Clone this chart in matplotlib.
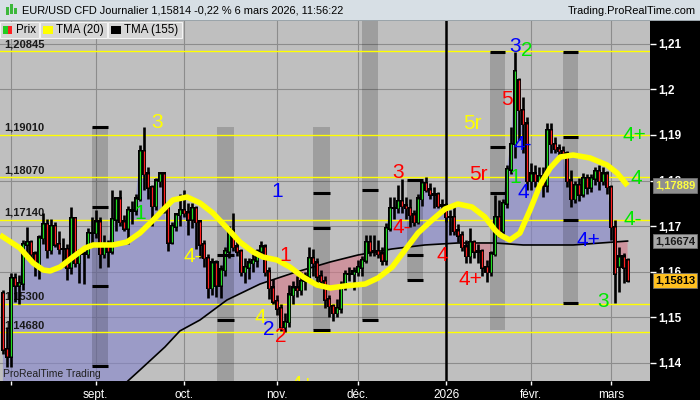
import numpy as np
import pandas as pd
import matplotlib
matplotlib.use("Agg")
import matplotlib.pyplot as plt
from matplotlib.patches import Rectangle

plt.rcParams['font.family'] = ['Liberation Sans', 'DejaVu Sans']

# trading days shown (daily candles, holidays removed)
dates = pd.bdate_range("2025-07-30", "2026-03-06")
dates = dates[~dates.isin(pd.to_datetime(["2025-12-25", "2026-01-01"]))]

opens = [1.1553, 1.1430, 1.1415, 1.1586, 1.1570, 1.1575, 1.1660, 1.1665, 1.1640, 1.1615,
         1.1675, 1.1705, 1.1648, 1.1700, 1.1660, 1.1650, 1.1650, 1.1610, 1.1718, 1.1620,
         1.1640, 1.1640, 1.1685, 1.1685, 1.1710, 1.1640, 1.1660, 1.1645, 1.1715, 1.1760,
         1.1710, 1.1695, 1.1735, 1.1735, 1.1760, 1.1865, 1.1815, 1.1785, 1.1745, 1.1800,
         1.1815, 1.1740, 1.1665, 1.1700, 1.1725, 1.1735, 1.1730, 1.1715, 1.1740, 1.1710,
         1.1660, 1.1630, 1.1565, 1.1620, 1.1570, 1.1605, 1.1645, 1.1690, 1.1655, 1.1645,
         1.1600, 1.1610, 1.1620, 1.1625, 1.1645, 1.1655, 1.1600, 1.1565, 1.1535, 1.1520,
         1.1480, 1.1490, 1.1550, 1.1565, 1.1560, 1.1580, 1.1590, 1.1630, 1.1620, 1.1590,
         1.1580, 1.1540, 1.1525, 1.1510, 1.1520, 1.1570, 1.1595, 1.1595, 1.1600, 1.1610,
         1.1625, 1.1665, 1.1645, 1.1645, 1.1640, 1.1625, 1.1695, 1.1740, 1.1740, 1.1755,
         1.1745, 1.1740, 1.1725, 1.1710, 1.1760, 1.1795, 1.1780, 1.1770, 1.1770, 1.1745,
         1.1745, 1.1720, 1.1720, 1.1690, 1.1680, 1.1655, 1.1635, 1.1665, 1.1645, 1.1645,
         1.1610, 1.1600, 1.1640, 1.1720, 1.1690, 1.1750, 1.1825, 1.1880, 1.2020, 1.1955,
         1.1925, 1.1800, 1.1815, 1.1800, 1.1810, 1.1790, 1.1910, 1.1880, 1.1870, 1.1865,
         1.1860, 1.1800, 1.1760, 1.1790, 1.1770, 1.1805, 1.1785, 1.1805, 1.1820, 1.1800,
         1.1815, 1.1786, 1.1698, 1.1612, 1.1633, 1.1626]
highs = [1.1560, 1.1478, 1.1597, 1.1597, 1.1593, 1.1670, 1.1699, 1.1670, 1.1645, 1.1680,
         1.1730, 1.1715, 1.1715, 1.1710, 1.1690, 1.1675, 1.1660, 1.1742, 1.1720, 1.1650,
         1.1645, 1.1695, 1.1720, 1.1735, 1.1720, 1.1680, 1.1670, 1.1780, 1.1760, 1.1780,
         1.1725, 1.1745, 1.1755, 1.1770, 1.1878, 1.1918, 1.1830, 1.1790, 1.1805, 1.1819,
         1.1818, 1.1750, 1.1710, 1.1730, 1.1770, 1.1779, 1.1750, 1.1750, 1.1745, 1.1710,
         1.1670, 1.1640, 1.1630, 1.1625, 1.1615, 1.1655, 1.1700, 1.1728, 1.1670, 1.1650,
         1.1630, 1.1630, 1.1640, 1.1650, 1.1668, 1.1660, 1.1610, 1.1585, 1.1550, 1.1530,
         1.1510, 1.1570, 1.1580, 1.1590, 1.1600, 1.1600, 1.1655, 1.1650, 1.1630, 1.1605,
         1.1590, 1.1550, 1.1530, 1.1540, 1.1580, 1.1605, 1.1610, 1.1610, 1.1625, 1.1635,
         1.1680, 1.1680, 1.1680, 1.1670, 1.1655, 1.1707, 1.1764, 1.1765, 1.1790, 1.1804,
         1.1765, 1.1760, 1.1735, 1.1770, 1.1800, 1.1808, 1.1795, 1.1785, 1.1775, 1.1760,
         1.1750, 1.1735, 1.1745, 1.1705, 1.1690, 1.1670, 1.1697, 1.1670, 1.1660, 1.1650,
         1.1625, 1.1645, 1.1768, 1.1757, 1.1760, 1.1835, 1.1918, 1.2083, 1.2025, 1.1983,
         1.1939, 1.1839, 1.1835, 1.1830, 1.1830, 1.1926, 1.1926, 1.1895, 1.1880, 1.1875,
         1.1865, 1.1823, 1.1800, 1.1805, 1.1817, 1.1815, 1.1815, 1.1830, 1.1835, 1.1830,
         1.1820, 1.1790, 1.1714, 1.1654, 1.1641, 1.1630]
lows = [1.1420, 1.1391, 1.1391, 1.1534, 1.1530, 1.1560, 1.1630, 1.1620, 1.1590, 1.1585,
        1.1660, 1.1630, 1.1640, 1.1655, 1.1640, 1.1610, 1.1583, 1.1595, 1.1610, 1.1575,
        1.1574, 1.1630, 1.1660, 1.1675, 1.1608, 1.1630, 1.1610, 1.1640, 1.1690, 1.1700,
        1.1690, 1.1660, 1.1705, 1.1725, 1.1755, 1.1780, 1.1760, 1.1700, 1.1735, 1.1785,
        1.1730, 1.1646, 1.1660, 1.1690, 1.1700, 1.1720, 1.1680, 1.1695, 1.1650, 1.1630,
        1.1610, 1.1542, 1.1550, 1.1545, 1.1542, 1.1590, 1.1630, 1.1645, 1.1635, 1.1590,
        1.1575, 1.1585, 1.1600, 1.1610, 1.1630, 1.1590, 1.1540, 1.1530, 1.1505, 1.1470,
        1.1468, 1.1480, 1.1530, 1.1545, 1.1550, 1.1560, 1.1585, 1.1590, 1.1575, 1.1570,
        1.1520, 1.1500, 1.1492, 1.1500, 1.1510, 1.1560, 1.1580, 1.1560, 1.1590, 1.1590,
        1.1620, 1.1635, 1.1635, 1.1630, 1.1615, 1.1615, 1.1690, 1.1715, 1.1730, 1.1730,
        1.1715, 1.1698, 1.1700, 1.1705, 1.1745, 1.1775, 1.1760, 1.1740, 1.1740, 1.1735,
        1.1710, 1.1680, 1.1680, 1.1665, 1.1645, 1.1620, 1.1620, 1.1630, 1.1620, 1.1590,
        1.1578, 1.1590, 1.1635, 1.1676, 1.1680, 1.1740, 1.1815, 1.1850, 1.1890, 1.1860,
        1.1779, 1.1779, 1.1785, 1.1780, 1.1765, 1.1775, 1.1860, 1.1861, 1.1852, 1.1850,
        1.1786, 1.1742, 1.1750, 1.1755, 1.1765, 1.1770, 1.1775, 1.1790, 1.1780, 1.1790,
        1.1770, 1.1670, 1.1532, 1.1556, 1.1575, 1.1578]
closes = [1.1430, 1.1415, 1.1586, 1.1570, 1.1575, 1.1660, 1.1665, 1.1640, 1.1615, 1.1675,
          1.1705, 1.1648, 1.1700, 1.1660, 1.1650, 1.1650, 1.1610, 1.1718, 1.1620, 1.1640,
          1.1640, 1.1685, 1.1685, 1.1710, 1.1640, 1.1660, 1.1645, 1.1715, 1.1760, 1.1710,
          1.1695, 1.1735, 1.1735, 1.1760, 1.1865, 1.1815, 1.1785, 1.1745, 1.1800, 1.1815,
          1.1740, 1.1665, 1.1700, 1.1725, 1.1735, 1.1730, 1.1715, 1.1740, 1.1710, 1.1660,
          1.1630, 1.1565, 1.1620, 1.1570, 1.1605, 1.1645, 1.1690, 1.1655, 1.1645, 1.1600,
          1.1610, 1.1620, 1.1625, 1.1645, 1.1655, 1.1600, 1.1565, 1.1535, 1.1520, 1.1480,
          1.1490, 1.1550, 1.1565, 1.1560, 1.1580, 1.1590, 1.1630, 1.1620, 1.1590, 1.1580,
          1.1540, 1.1525, 1.1510, 1.1520, 1.1570, 1.1595, 1.1595, 1.1600, 1.1610, 1.1625,
          1.1665, 1.1645, 1.1645, 1.1640, 1.1625, 1.1695, 1.1740, 1.1740, 1.1755, 1.1745,
          1.1740, 1.1725, 1.1710, 1.1760, 1.1795, 1.1780, 1.1770, 1.1770, 1.1745, 1.1745,
          1.1720, 1.1720, 1.1690, 1.1680, 1.1655, 1.1635, 1.1665, 1.1645, 1.1645, 1.1610,
          1.1600, 1.1640, 1.1720, 1.1690, 1.1750, 1.1825, 1.1880, 1.2040, 1.1955, 1.1925,
          1.1800, 1.1815, 1.1800, 1.1810, 1.1790, 1.1910, 1.1880, 1.1870, 1.1865, 1.1860,
          1.1800, 1.1760, 1.1790, 1.1770, 1.1805, 1.1785, 1.1805, 1.1820, 1.1800, 1.1815,
          1.1786, 1.1698, 1.1597, 1.1633, 1.1610, 1.1581]

# TMA(20) and TMA(155) (bar position, price)
tma20_x = [-0.7, 4.2, 7.5, 10.0, 11.7, 14.2, 17.4, 20.4, 22.4, 27.3, 30.8, 34.0, 37.3, 40.2,
           42.2, 45.7, 48.9, 52.1, 55.6, 58.8, 62.1, 64.5, 68.0, 71.2, 74.5, 77.9, 81.2, 84.9,
           89.9, 93.1, 96.6, 99.8, 103.0, 106.5, 109.7, 112.9, 116.4, 119.6, 122.1, 123.4,
           125.8, 128.3, 130.8, 133.3, 135.8, 138.3, 141.5, 145.7, 149.9, 152.4, 155.0]
tma20_y = [1.16807, 1.16522, 1.16193, 1.16039, 1.16018, 1.16105, 1.16325, 1.16522, 1.16588,
           1.16588, 1.16654, 1.16851, 1.17136, 1.17399, 1.17575, 1.17640, 1.17509, 1.17289,
           1.16961, 1.16654, 1.16434, 1.16325, 1.16259, 1.16105, 1.15886, 1.15711, 1.15645,
           1.15689, 1.15732, 1.15864, 1.16105, 1.16478, 1.16851, 1.17136, 1.17377, 1.17487,
           1.17421, 1.17202, 1.16917, 1.16807, 1.16697, 1.16851, 1.17355, 1.17904, 1.18276,
           1.18518, 1.18561, 1.18496, 1.18342, 1.18167, 1.17889]
tma155_x = [-0.7, 14.2, 24.1, 31.0, 34.0, 40.2, 43.9, 48.9, 55.6, 63.8, 72.0, 81.2, 88.1,
            96.5, 104.7, 112.9, 122.1, 129.1, 141.5, 155.0]
tma155_y = [1.10557, 1.12092, 1.12969, 1.13605, 1.13846, 1.14351, 1.14702, 1.14943, 1.15382,
            1.15732, 1.15974, 1.16215, 1.16368, 1.16500, 1.16588, 1.16632, 1.16632, 1.16588,
            1.16588, 1.16674]

levels = [1.20845, 1.19010, 1.18070, 1.17140, 1.15300, 1.14680]
level_labels = ["1,20845", "1,19010", "1,18070", "1,17140", "1,15300", "1,14680"]

# shaded time bands: left, right (bar position), top, bottom, marks (price)
band_left = [22.1, 53.1, 77.0, 89.1, 100.3, 120.9, 139.0]
band_right = [26.1, 57.3, 81.2, 93.1, 104.2, 124.6, 142.7]
band_top = [1.19175, 1.19175, 1.19175, 1.21500, 1.18013, 1.20820, 1.20820]
band_bottom = [1.13934, 1.13605, 1.14724, 1.14943, 1.15820, 1.14724, 1.15316]
band_marks = [[1.19175, 1.17421, 1.15689, 1.13934],
              [1.16368, 1.14943],
              [1.17728, 1.16961, 1.14724],
              [1.17794, 1.14943],
              [1.18013, 1.16368, 1.15820],
              [1.20820, 1.18737, 1.17728],
              [1.20820, 1.18956, 1.17136, 1.15316]]

# wave labels (bar position, price, text, colour)
labels = [(38.2, 1.19285, "3", "#ffff00"), (34.0, 1.17289, "1", "#00e600"),
          (47.2, 1.16325, "4-", "#ffff00"), (68.0, 1.17750, "1", "#0000ff"),
          (70.0, 1.16368, "1", "#ff0000"), (63.8, 1.14987, "4", "#ffff00"),
          (66.0, 1.14724, "2", "#0000ff"), (69.0, 1.14570, "2", "#ff0000"),
          (74.2, 1.13530, "4+", "#ffff00"), (98.0, 1.18167, "3", "#ff0000"),
          (99.0, 1.16982, "4-", "#ff0000"), (109.0, 1.16368, "4", "#ff0000"),
          (115.9, 1.15820, "4+", "#ff0000"), (116.4, 1.19263, "5r", "#ffff00"),
          (117.9, 1.18123, "5r", "#ff0000"), (125.1, 1.19768, "5", "#ff0000"),
          (127.1, 1.20930, "3", "#0000ff"), (130.0, 1.20864, "2", "#00e600"),
          (129.1, 1.18781, "4-", "#0000ff"), (127.1, 1.18057, "1", "#00e600"),
          (129.1, 1.17728, "4", "#0000ff"), (145.2, 1.16697, "4+", "#0000ff"),
          (156.8, 1.18978, "4+", "#00e600"), (157.1, 1.18035, "4", "#00e600"),
          (156.4, 1.17136, "4-", "#00e600"), (148.9, 1.15338, "3", "#00e600")]

month_names = {9: "sept.", 10: "oct.", 11: "nov.", 12: "déc.", 1: "2026", 2: "févr.", 3: "mars", 8: ""}

idx = np.arange(len(closes))
o = np.array(opens)
h = np.array(highs)
l = np.array(lows)
c = np.array(closes)

fig = plt.figure(figsize=(7, 4), dpi=100, facecolor="black")
ax = fig.add_axes([0, 19 / 400, 650 / 700, 360 / 400])
ax.set_facecolor("#bfbfbf")
ax.set_xlim(-0.72, 160.57)
ax.set_ylim(1.13605, 1.21500)
for s in ax.spines.values():
    s.set_visible(False)

# month ticks
month_start = [0] + [i for i in range(1, len(dates)) if dates[i].month != dates[i - 1].month]
month_start = [i for i in month_start if dates[i].day <= 3]
ax.set_xticks(month_start)
ax.set_xticklabels([month_names[dates[i].month] for i in month_start])
ax.set_yticks(np.arange(1.14, 1.2101, 0.01))
ax.set_yticklabels(["1,14", "1,15", "1,16", "1,17", "1,18", "1,19", "1,2", "1,21"])
ax.yaxis.tick_right()
ax.tick_params(axis="y", colors="white", length=4, width=1, pad=2, labelsize=8.5)
ax.tick_params(axis="x", colors="white", length=3, width=1, pad=3, labelsize=8.5)
for t in ax.get_yticklabels():
    t.set_fontweight("bold")
for t in ax.get_xticklabels():
    t.set_family(["Liberation Sans Narrow", "Liberation Sans"])
ax.grid(True, color="#8c8c8c", lw=0.8, zorder=0)
ax.set_axisbelow(True)

# fill between close and TMA(155)
t155 = np.interp(idx, tma155_x, tma155_y)
ax.fill_between(idx, c, t155, where=c >= t155, interpolate=True, color="#8686cc", alpha=0.62, lw=0, zorder=1)
ax.fill_between(idx, c, t155, where=c < t155, interpolate=True, color="#d67b8b", alpha=0.62, lw=0, zorder=1)

# time bands
for k in range(len(band_left)):
    ax.add_patch(Rectangle((band_left[k], band_bottom[k]), band_right[k] - band_left[k],
                           band_top[k] - band_bottom[k], color="black", alpha=0.17, lw=0, zorder=1.5))
    ax.hlines(band_marks[k], band_left[k], band_right[k], color="black", lw=2.2, zorder=6)

# support / resistance levels
ax.hlines(levels, -1, 161, color="#ffff00", lw=1.0, zorder=2)
for lv, lab in zip(levels, level_labels):
    ax.text(0.3, lv + 0.0004, lab, fontsize=8, fontweight="bold", color="#1a1a1a",
            ha="left", va="bottom", zorder=3)

# 2026 separator
ax.axvline(month_start[5], color="black", lw=1.8, zorder=2)

# TMA 155
ax.plot(tma155_x, tma155_y, color="black", lw=1.2, zorder=3)

# candles
ax.vlines(idx, l, h, color="black", lw=1.9, zorder=4)
pad = 0.0003
ax.bar(idx, np.abs(c - o) + 2 * pad, bottom=np.minimum(o, c) - pad, width=1.0, color="black", lw=0, zorder=4)
up = c >= o
ax.vlines(idx[up], o[up], c[up], color="#22dd22", lw=0.9, zorder=5)
ax.vlines(idx[~up], c[~up], o[~up], color="#ff2020", lw=0.9, zorder=5)

# TMA 20
ax.plot(tma20_x, tma20_y, color="#ffff00", lw=4.0, solid_capstyle="butt", zorder=6)

for x, y, txt, col in labels:
    ax.text(x, y, txt, color=col, fontsize=15, ha="center", va="center", zorder=8, clip_on=True)

ax.text(0.004, 0.012, "ProRealTime Trading", transform=ax.transAxes, fontsize=7.5,
        color="#202020", family=["Liberation Sans Narrow", "Liberation Sans"], zorder=8)

# price tags on the right scale
yt = ax.get_yaxis_transform()
tags = [(tma20_y[-1], "1,17889", "#8f8f8f", "#ffff40"),
        (tma155_y[-1], "1,16674", "#a8a8a8", "#1a1a1a"),
        (closes[-1], "1,15813", "#ffc020", "#000000")]
for val, txt, bg, fg in tags:
    ax.text(1.0075, val, txt, transform=yt, fontsize=8, fontweight="bold", color=fg,
            ha="left", va="center", clip_on=False, zorder=10,
            bbox=dict(boxstyle="square,pad=0.2", fc=bg, ec="#707070", lw=0.6))

# header bar
def fx(px):
    return px / 700

def fy(py):
    return 1 - py / 400

fig.add_artist(Rectangle((0, fy(20)), 1, 20 / 400, transform=fig.transFigure, fc="#d7dfe5", ec="none"))
fig.add_artist(Rectangle((0, fy(21)), 1, 1 / 400, transform=fig.transFigure, fc="#9aa4aa", ec="none"))
for k, (y0, hh) in enumerate([(7, 8), (4, 10), (8, 6)]):
    fig.add_artist(Rectangle((fx(6 + k * 4), fy(y0 + hh)), fx(2.5), hh / 400,
                             transform=fig.transFigure, fc="#3cb83c", ec="none"))
fig.text(fx(22), fy(10.5), "EUR/USD CFD Journalier 1,15814 -0,22 % 6 mars 2026, 11:56:22",
         fontsize=7.9, color="black", va="center", ha="left")
fig.text(fx(696), fy(10.5), "Trading.ProRealTime.com", fontsize=7.9, color="black",
         va="center", ha="right")

# legend boxes
boxes = [(0, 39, "Prix", None), (40, 107, "TMA (20)", "#ffff00"), (108, 182, "TMA (155)", "black")]
for x0, x1, txt, col in boxes:
    fig.add_artist(Rectangle((fx(x0), fy(38)), fx(x1 - x0), 16 / 400, transform=fig.transFigure,
                             fc="#d6d6d6", ec="#f4f4f4", lw=0.8, zorder=20))
    if col is None:
        fig.add_artist(Rectangle((fx(x0 + 3), fy(34)), fx(4.5), 8 / 400, transform=fig.transFigure,
                                 fc="#22cc22", ec="none", zorder=21))
        fig.add_artist(Rectangle((fx(x0 + 7.5), fy(34)), fx(4.5), 8 / 400, transform=fig.transFigure,
                                 fc="#ff2020", ec="none", zorder=21))
    else:
        fig.add_artist(Rectangle((fx(x0 + 3), fy(34)), fx(10), 8 / 400, transform=fig.transFigure,
                                 fc=col, ec="none", zorder=21))
    fig.text(fx(x0 + 16), fy(30), txt, fontsize=8.3, color="black", va="center", ha="left", zorder=22)

fig.savefig("out.png", dpi=100, facecolor="black")
